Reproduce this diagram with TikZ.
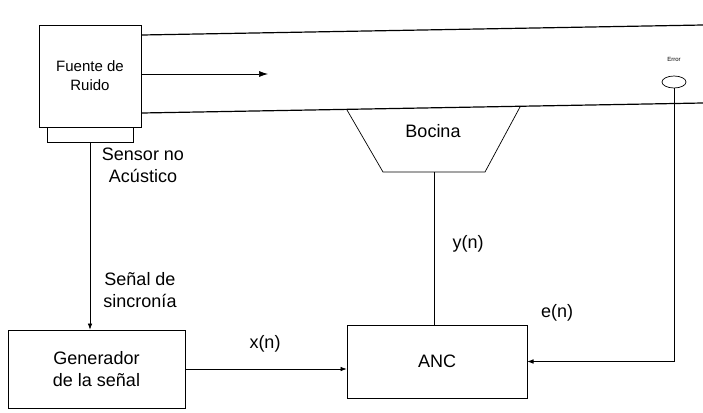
\documentclass[tikz,border=0pt]{standalone}
\usepackage{fontspec}
\setmainfont{Liberation Sans}
\usetikzlibrary{arrows.meta,positioning,shapes.geometric}

\begin{document}
\begin{tikzpicture}[x=1pt,y=-1pt,line width=0.7pt,
  box/.style={draw,align=center,inner sep=0pt,font=\fontsize{18}{22}\selectfont},
  lbl/.style={align=center,inner sep=0pt,font=\fontsize{18}{22}\selectfont},
  duct/.style={line width=1.2pt}]
\useasboundingbox (0,0) rectangle (703,412);
% fuente y sensor
\node[box,minimum width=102pt,minimum height=102pt,font=\fontsize{15}{19}\selectfont] (fuente) at (90,76) {Fuente de\\Ruido};
\node[box,minimum width=86pt,minimum height=15pt] (sensor) at (90,134.5) {};
% ducto
\draw[duct] (142,35) -- (703,25);
\draw[duct] (142,113) -- (703,103);
\coordinate (onda) at (268,74);
\draw[-{Latex[length=9pt,width=6pt]}] (fuente.east |- onda) -- (onda);
% bocina
\draw (347,110) -- (383,172) -- (485,172) -- (520,107);
\node[lbl] (bocina) at (433,131) {Bocina};
\coordinate (bocinab) at (434,172);
% microfono de error
\node[draw,ellipse,minimum width=24pt,minimum height=12pt,inner sep=0pt] (err) at (674,82) {};
\node[lbl,font=\fontsize{6}{7}\selectfont,above=14pt of err] (errlbl) {Error};
% bloques
\node[box,minimum width=177pt,minimum height=78pt] (gen) at (96.5,369) {Generador\\de la señal};
\node[box,minimum width=180pt,minimum height=73pt] (anc) at (437,361.5) {ANC};
% conexiones
\draw[-{Latex}] (sensor.south) -- (sensor.south |- gen.north);
\draw[-{Latex}] (gen.east) -- (gen.east -| anc.west);
\draw (bocinab) -- (bocinab |- anc.north);
\draw[-{Latex}] (err.south) |- (anc.east);
% etiquetas
\node[lbl] (senslbl) at (143,165) {Sensor no\\Acústico};
\node[lbl] (sinclbl) at (140,290) {Señal de\\sincronía};
\node[lbl] (xlbl) at (265,344) {x(n)};
\node[lbl] (ylbl) at (468,244) {y(n)};
\node[lbl] (elbl) at (557,313) {e(n)};
\end{tikzpicture}
\end{document}
